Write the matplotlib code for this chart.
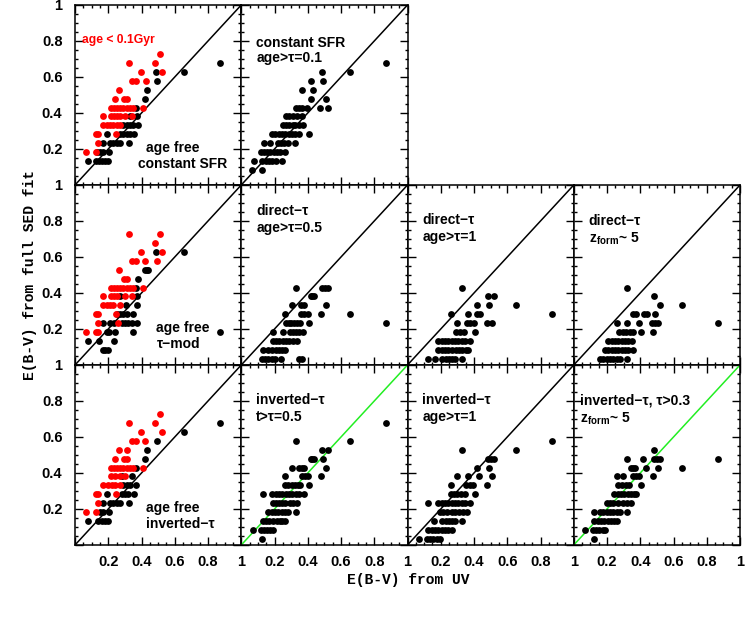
import matplotlib
matplotlib.use("Agg")
import matplotlib.pyplot as plt
from matplotlib.ticker import MultipleLocator, FuncFormatter

plt.rcParams['mathtext.fontset'] = 'custom'
plt.rcParams['mathtext.rm'] = 'Liberation Sans:bold'
plt.rcParams['mathtext.bf'] = 'Liberation Sans:bold'
plt.rcParams['mathtext.it'] = 'Liberation Sans:bold'

# ---------------- data: rows of (E(B-V) SED fit, [E(B-V) UV values]) ----------------
# Panel A: age free, constant SFR
a_red = [(0.73, [0.513]), (0.68, [0.327, 0.479]), (0.63, [0.395, 0.525]),
         (0.58, [0.343, 0.369, 0.427]), (0.53, [0.265]), (0.48, [0.24, 0.297, 0.311]),
         (0.43, [0.218, 0.235, 0.25, 0.27, 0.29, 0.31, 0.33, 0.351, 0.411]),
         (0.385, [0.166, 0.214, 0.235, 0.255, 0.27, 0.303, 0.345]),
         (0.335, [0.166, 0.19, 0.21, 0.23, 0.25, 0.27]),
         (0.285, [0.126, 0.14, 0.247]), (0.235, [0.14]), (0.185, [0.064, 0.126])]
a_black = [(0.68, [0.872]), (0.63, [0.489, 0.655]), (0.58, [0.491]), (0.53, [0.435]),
           (0.48, [0.421]), (0.43, [0.365]), (0.385, [0.331, 0.375]),
           (0.335, [0.29, 0.31, 0.33, 0.35, 0.377]),
           (0.285, [0.194, 0.271, 0.29, 0.31, 0.33, 0.355]),
           (0.235, [0.17, 0.21, 0.23, 0.25, 0.27, 0.327]),
           (0.185, [0.13, 0.15, 0.17, 0.206]),
           (0.135, [0.076, 0.126, 0.145, 0.165, 0.18, 0.198])]
# Panel B: constant SFR, age>tau=0.1
b_black = [(0.68, [0.869]), (0.63, [0.484, 0.654]), (0.58, [0.418, 0.49]),
           (0.53, [0.363, 0.434]), (0.48, [0.418, 0.51]),
           (0.43, [0.33, 0.347, 0.363, 0.398, 0.474, 0.522]),
           (0.385, [0.27, 0.29, 0.31, 0.337, 0.366]),
           (0.335, [0.253, 0.27, 0.29, 0.31, 0.323, 0.35, 0.373]),
           (0.285, [0.187, 0.205, 0.225, 0.245, 0.265, 0.285, 0.305, 0.325, 0.35, 0.41]),
           (0.235, [0.139, 0.173, 0.22, 0.24, 0.26, 0.283, 0.323]),
           (0.185, [0.117, 0.135, 0.155, 0.175, 0.195, 0.215, 0.235, 0.263]),
           (0.135, [0.077, 0.127, 0.147, 0.167, 0.187, 0.207, 0.243]),
           (0.085, [0.063, 0.127])]
# Panel C: age free, tau-mod
c_red = [(0.73, [0.327, 0.513]), (0.68, [0.479]), (0.63, [0.395, 0.525]),
         (0.58, [0.343, 0.369, 0.423, 0.491]), (0.53, [0.265]), (0.48, [0.295, 0.315]),
         (0.43, [0.218, 0.235, 0.25, 0.27, 0.29, 0.31, 0.33, 0.351, 0.411]),
         (0.385, [0.166, 0.214, 0.235, 0.255, 0.303, 0.341]),
         (0.335, [0.166, 0.19, 0.21, 0.23, 0.27]),
         (0.285, [0.126, 0.14, 0.247]), (0.235, [0.14, 0.26]),
         (0.185, [0.064, 0.126, 0.14])]
c_black = [(0.63, [0.489, 0.655]), (0.53, [0.421, 0.431, 0.441]), (0.48, [0.377]),
           (0.43, [0.365]), (0.385, [0.271, 0.371]), (0.335, [0.307, 0.371]),
           (0.285, [0.254, 0.271, 0.29, 0.31, 0.35]),
           (0.235, [0.17, 0.21, 0.235, 0.281, 0.3, 0.32, 0.34, 0.371]),
           (0.185, [0.19, 0.206, 0.24, 0.347, 0.872]),
           (0.135, [0.076, 0.146, 0.234]), (0.085, [0.166, 0.182, 0.198])]
# Panel D: direct-tau, age>tau=0.5
d_black = [(0.43, [0.327, 0.484, 0.504, 0.524]), (0.385, [0.418, 0.428, 0.438]),
           (0.335, [0.303, 0.357, 0.377, 0.51]),
           (0.285, [0.263, 0.357, 0.38, 0.404, 0.478, 0.654]),
           (0.235, [0.269, 0.285, 0.3, 0.315, 0.335, 0.353, 0.41, 0.869]),
           (0.185, [0.193, 0.249, 0.293, 0.31, 0.33, 0.35, 0.373]),
           (0.135, [0.193, 0.21, 0.23, 0.25, 0.27, 0.29, 0.31, 0.333]),
           (0.085, [0.133, 0.158, 0.183, 0.209, 0.227, 0.245, 0.263]),
           (0.033, [0.123, 0.143, 0.163, 0.183, 0.203, 0.237, 0.35, 0.363])]
# Panel E: direct-tau, age>tau=1
e_black = [(0.43, [0.326]), (0.385, [0.486, 0.518]), (0.335, [0.416, 0.49, 0.655]),
           (0.285, [0.262, 0.362, 0.416, 0.436, 0.867]),
           (0.235, [0.3, 0.356, 0.378, 0.4, 0.476, 0.51]),
           (0.185, [0.29, 0.316, 0.342, 0.406]),
           (0.135, [0.185, 0.205, 0.225, 0.245, 0.265, 0.285, 0.305, 0.325, 0.345, 0.376]),
           (0.085, [0.185, 0.205, 0.225, 0.245, 0.266, 0.29, 0.31, 0.33, 0.35, 0.366]),
           (0.033, [0.125, 0.165, 0.21, 0.23, 0.25, 0.27, 0.286, 0.326])]
# Panel F: direct-tau, z_form ~ 5
f_black = [(0.43, [0.322]), (0.385, [0.483]), (0.335, [0.519, 0.651]),
           (0.285, [0.354, 0.374, 0.42, 0.443, 0.489]),
           (0.235, [0.258, 0.322, 0.393, 0.469, 0.489, 0.509, 0.87]),
           (0.185, [0.274, 0.295, 0.315, 0.337, 0.358, 0.404, 0.475]),
           (0.135, [0.208, 0.228, 0.248, 0.268, 0.288, 0.308, 0.328, 0.348]),
           (0.085, [0.188, 0.208, 0.228, 0.248, 0.268, 0.288, 0.308, 0.328, 0.358]),
           (0.033, [0.158, 0.178, 0.198, 0.218, 0.238, 0.258, 0.278, 0.322])]
# Panel G: age free, inverted-tau
g_red = [(0.73, [0.513]), (0.68, [0.327, 0.479]), (0.63, [0.395, 0.525]),
         (0.58, [0.343, 0.369, 0.423]), (0.53, [0.265, 0.311]), (0.48, [0.24, 0.297, 0.311]),
         (0.43, [0.218, 0.235, 0.25, 0.27, 0.29, 0.31, 0.33, 0.351, 0.411]),
         (0.385, [0.214, 0.24, 0.271, 0.303]),
         (0.335, [0.166, 0.2, 0.22, 0.24, 0.271]),
         (0.285, [0.126, 0.14, 0.247]), (0.235, [0.14]), (0.185, [0.064, 0.126])]
g_black = [(0.68, [0.872]), (0.63, [0.655]), (0.58, [0.491]), (0.53, [0.435]),
           (0.48, [0.421]), (0.43, [0.365]), (0.385, [0.28, 0.341]),
           (0.335, [0.287, 0.31, 0.33, 0.367]),
           (0.285, [0.194, 0.281, 0.3, 0.32, 0.355]),
           (0.235, [0.17, 0.21, 0.23, 0.25, 0.27, 0.327]),
           (0.185, [0.15, 0.17, 0.206]),
           (0.135, [0.076, 0.14, 0.16, 0.18, 0.2])]
# Panel H: inverted-tau, t>tau=0.5
h_black = [(0.68, [0.869]), (0.58, [0.327, 0.654]), (0.53, [0.484, 0.524]),
           (0.48, [0.418, 0.428, 0.437, 0.49]),
           (0.43, [0.303, 0.35, 0.365, 0.38, 0.51]),
           (0.385, [0.263, 0.363, 0.383, 0.404, 0.478]),
           (0.335, [0.263, 0.283, 0.303, 0.323, 0.34, 0.353, 0.41]),
           (0.285, [0.129, 0.187, 0.207, 0.227, 0.247, 0.267, 0.287, 0.307, 0.327, 0.347, 0.377]),
           (0.235, [0.193, 0.21, 0.228, 0.245, 0.263, 0.293, 0.313, 0.333]),
           (0.185, [0.163, 0.183, 0.203, 0.223, 0.243, 0.263, 0.283, 0.33]),
           (0.135, [0.129, 0.149, 0.169, 0.19, 0.213, 0.233, 0.248, 0.263]),
           (0.085, [0.073, 0.117, 0.137, 0.157, 0.175, 0.193]),
           (0.033, [0.123])]
# Panel I: inverted-tau, age>tau=1
i_black = [(0.58, [0.867]), (0.53, [0.326, 0.655]), (0.48, [0.486, 0.502, 0.518]),
           (0.43, [0.416, 0.49]), (0.385, [0.3, 0.362, 0.43, 0.51]),
           (0.335, [0.262, 0.35, 0.373, 0.396, 0.476]),
           (0.285, [0.262, 0.28, 0.3, 0.32, 0.346, 0.406]),
           (0.235, [0.125, 0.185, 0.205, 0.225, 0.245, 0.265, 0.285, 0.305, 0.325, 0.345, 0.376]),
           (0.185, [0.195, 0.215, 0.235, 0.266, 0.286, 0.31, 0.333, 0.356]),
           (0.135, [0.161, 0.21, 0.23, 0.25, 0.27, 0.286, 0.326]),
           (0.085, [0.125, 0.145, 0.165, 0.185, 0.205, 0.225, 0.245, 0.266]),
           (0.033, [0.069, 0.115, 0.135, 0.155, 0.175, 0.195])]
# Panel J: inverted-tau, tau>0.3, z_form ~ 5
j_black = [(0.53, [0.483]), (0.48, [0.322, 0.415, 0.483, 0.501, 0.519, 0.87]),
           (0.43, [0.344, 0.356, 0.368, 0.435, 0.509, 0.651]),
           (0.385, [0.258, 0.298, 0.358, 0.376, 0.394, 0.475]),
           (0.335, [0.268, 0.29, 0.312, 0.334, 0.404]),
           (0.285, [0.244, 0.264, 0.284, 0.304, 0.324, 0.344, 0.36, 0.375]),
           (0.235, [0.198, 0.218, 0.238, 0.268, 0.294, 0.318, 0.342]),
           (0.185, [0.124, 0.158, 0.178, 0.198, 0.218, 0.238, 0.258, 0.278, 0.322]),
           (0.135, [0.124, 0.144, 0.164, 0.184, 0.204, 0.224, 0.244, 0.258]),
           (0.085, [0.068, 0.114, 0.134, 0.154, 0.174, 0.188]),
           (0.033, [0.124])]

tick_values = [0.2, 0.4, 0.6, 0.8, 1.0]
tick_labels = ["0.2", "0.4", "0.6", "0.8", "1"]

# ---------------- figure ----------------
W, H = 747, 621
fig = plt.figure(figsize=(W / 100, H / 100), dpi=100)
L0, T0, PW, PH = 75, 5, 166.25, 180

TICKFONT = dict(family='Liberation Sans', weight='bold', size=10.5)
ANNFONT = dict(family='Liberation Sans', weight='bold', size=10)


def flatten(rows):
    xs, ys = [], []
    for y, xl in rows:
        for x in xl:
            xs.append(x)
            ys.append(y)
    return xs, ys


label_map = dict(zip([round(t, 2) for t in tick_values], tick_labels))


def make_ax(r, c):
    left = (L0 + c * PW) / W
    bottom = 1 - (T0 + (r + 1) * PH) / H
    ax = fig.add_axes([left, bottom, PW / W, PH / H])
    ax.set_xlim(0, 1)
    ax.set_ylim(0, 1)
    ax.xaxis.set_major_locator(MultipleLocator(0.2))
    ax.xaxis.set_minor_locator(MultipleLocator(0.05))
    ax.yaxis.set_major_locator(MultipleLocator(0.2))
    ax.yaxis.set_minor_locator(MultipleLocator(0.05))
    ax.tick_params(which='both', direction='in', top=True, right=True,
                   width=1.0, labelbottom=(r == 2), labelleft=(c == 0))
    ax.tick_params(which='major', length=5.5)
    ax.tick_params(which='minor', length=2.5)
    ax.tick_params(axis='x', pad=7)
    ax.tick_params(axis='y', pad=9)
    fmt = FuncFormatter(lambda v, p: label_map.get(round(v, 2), ""))
    ax.xaxis.set_major_formatter(fmt)
    ax.yaxis.set_major_formatter(fmt)
    for lab in ax.get_xticklabels() + ax.get_yticklabels():
        lab.set_fontfamily(TICKFONT['family'])
        lab.set_fontweight(TICKFONT['weight'])
        lab.set_fontsize(TICKFONT['size'])
    for s in ax.spines.values():
        s.set_linewidth(1.1)
    return ax


def scatter(ax, rows, color):
    xs, ys = flatten(rows)
    ax.plot(xs, ys, 'o', color=color, markersize=4.9, markeredgewidth=0, zorder=3)


def diag(ax, color='black'):
    ax.plot([0, 1], [0, 1], color=color, lw=1.1, zorder=2)


def ann(ax, x, y, s, **kw):
    opts = dict(ANNFONT)
    opts.update(kw)
    ax.text(x, y, s, transform=ax.transAxes, va='center', ha='left', **opts)


# Row 0
ax = make_ax(0, 0)
diag(ax)
scatter(ax, a_black, 'black')
scatter(ax, a_red, '#ff0000')
ann(ax, 0.04, 0.805, "age < 0.1Gyr", color='#ff0000', size=8.7)
ann(ax, 0.43, 0.205, "age free")
ann(ax, 0.38, 0.115, "constant SFR")

ax = make_ax(0, 1)
diag(ax)
scatter(ax, b_black, 'black')
ann(ax, 0.09, 0.79, "constant SFR")
ann(ax, 0.09, 0.705, "age>τ=0.1")

# Row 1
ax = make_ax(1, 0)
diag(ax)
scatter(ax, c_black, 'black')
scatter(ax, c_red, '#ff0000')
ann(ax, 0.49, 0.205, "age free")
ann(ax, 0.49, 0.115, "τ−mod")

ax = make_ax(1, 1)
diag(ax)
scatter(ax, d_black, 'black')
ann(ax, 0.09, 0.855, "direct−τ")
ann(ax, 0.09, 0.76, "age>τ=0.5")

ax = make_ax(1, 2)
diag(ax)
scatter(ax, e_black, 'black')
ann(ax, 0.09, 0.805, "direct−τ")
ann(ax, 0.09, 0.71, "age>τ=1")

ax = make_ax(1, 3)
diag(ax)
scatter(ax, f_black, 'black')
ann(ax, 0.09, 0.80, "direct−τ")
ann(ax, 0.09, 0.70, r"z$_{\mathrm{form}}$~ 5")

# Row 2
ax = make_ax(2, 0)
diag(ax)
scatter(ax, g_black, 'black')
scatter(ax, g_red, '#ff0000')
ann(ax, 0.43, 0.205, "age free")
ann(ax, 0.43, 0.115, "inverted−τ")

ax = make_ax(2, 1)
diag(ax, '#22ee22')
scatter(ax, h_black, 'black')
ann(ax, 0.09, 0.805, "inverted−τ")
ann(ax, 0.09, 0.71, "t>τ=0.5")

ax = make_ax(2, 2)
diag(ax)
scatter(ax, i_black, 'black')
ann(ax, 0.09, 0.805, "inverted−τ")
ann(ax, 0.09, 0.71, "age>τ=1")

ax = make_ax(2, 3)
diag(ax, '#22ee22')
scatter(ax, j_black, 'black')
ann(ax, 0.04, 0.805, "inverted−τ, τ>0.3")
ann(ax, 0.04, 0.70, r"z$_{\mathrm{form}}$~ 5")

# axis titles
fig.text(30 / W, 1 - 275 / H, "E(B-V) from full SED fit", rotation=90,
         ha='center', va='center', family='Liberation Mono', weight='bold', size=10.5)
fig.text(408 / W, 1 - 580 / H, "E(B-V) from UV", ha='center', va='center',
         family='Liberation Mono', weight='bold', size=10.5)

fig.savefig("out.png", dpi=100)
